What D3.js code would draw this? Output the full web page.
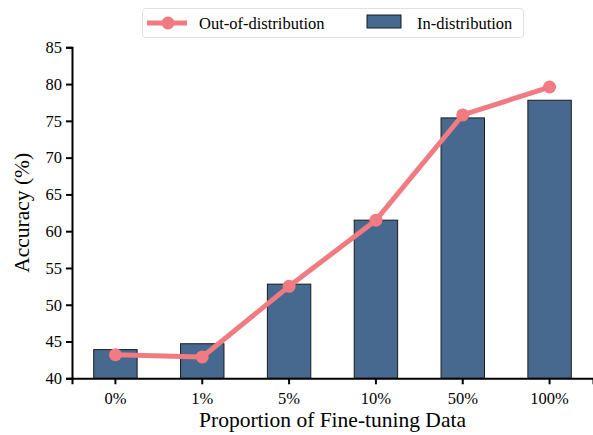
<!DOCTYPE html>
<html>
<head>
<meta charset="utf-8">
<script src="https://cdn.jsdelivr.net/npm/d3@7"></script>
<style>
  html, body { margin: 0; padding: 0; background: #fff; }
  svg { display: block; font-family: "Liberation Serif", "Times New Roman", serif; }
  svg text { font-family: "Liberation Serif", "Times New Roman", serif !important; }
  .tick text { font-size: 16.5px !important; fill: #000; }
</style>
</head>
<body>
<svg id="chart" width="593" height="435"></svg>
<script>
const categories = ["0%", "1%", "5%", "10%", "50%", "100%"];
const inDistribution = [43.9, 44.7, 52.8, 61.5, 75.4, 77.8];
const outOfDistribution = [43.2, 42.9, 52.5, 61.5, 75.8, 79.6];
const yTicks = [40, 45, 50, 55, 60, 65, 70, 75, 80, 85];

(function () {
const svg = d3.select("#chart");
const mLeft = 72, mRight = 593, mTop = 47.3, mBottom = 378.3;

const x = d3.scaleBand().domain(categories).range([mLeft, mRight]).paddingInner(0.5).paddingOuter(0.25);
const y = d3.scaleLinear().domain([40, 85]).range([mBottom, mTop]);

const barColor = "#476990";
const lineColor = "#f07b80";

// bars
svg.append("g").selectAll("rect").data(categories).join("rect")
  .attr("x", d => x(d))
  .attr("y", (d, i) => y(inDistribution[i]))
  .attr("width", x.bandwidth())
  .attr("height", (d, i) => y(40) - y(inDistribution[i]))
  .attr("fill", barColor)
  .attr("stroke", "#1a1a1a")
  .attr("stroke-width", 1);

// line
const cx = d => x(d) + x.bandwidth() / 2;
const line = d3.line().x((d, i) => cx(categories[i])).y(d => y(d));
svg.append("path").datum(outOfDistribution)
  .attr("d", line)
  .attr("fill", "none")
  .attr("stroke", lineColor)
  .attr("stroke-width", 5)
  .attr("stroke-linejoin", "round");
svg.append("g").selectAll("circle").data(outOfDistribution).join("circle")
  .attr("cx", (d, i) => cx(categories[i]))
  .attr("cy", d => y(d))
  .attr("r", 6.5)
  .attr("fill", lineColor);

// axes
const xAxis = svg.append("g").attr("transform", `translate(0,${mBottom})`)
  .call(d3.axisBottom(x).tickSizeOuter(0).tickSize(6).tickPadding(8));
const yAxis = svg.append("g").attr("transform", `translate(${mLeft},0)`)
  .call(d3.axisLeft(y).tickValues(yTicks).tickSizeOuter(0).tickSize(6).tickPadding(4));
[xAxis, yAxis].forEach(g => {
  g.attr("font-family", "Liberation Serif").attr("font-size", 16.5);
  g.select(".domain").attr("stroke", "#000").attr("stroke-width", 2);
  g.selectAll(".tick line").attr("stroke", "#000").attr("stroke-width", 2);
  g.selectAll(".tick text").attr("fill", "#000");
});

// axis titles
svg.append("text")
  .attr("x", (mLeft + mRight) / 2).attr("y", 427)
  .attr("text-anchor", "middle")
  .style("font-size", "21.5px")
  .text("Proportion of Fine-tuning Data");
svg.append("text")
  .attr("transform", `translate(29,${(mTop + mBottom) / 2}) rotate(-90)`)
  .attr("text-anchor", "middle")
  .style("font-size", "21.5px")
  .text("Accuracy (%)");

// legend
const lg = svg.append("g");
lg.append("rect").attr("x", 142.5).attr("y", 8.5).attr("width", 381).attr("height", 29)
  .attr("rx", 3).attr("fill", "#fff").attr("stroke", "#e0e0e0").attr("stroke-width", 1);
lg.append("line").attr("x1", 147).attr("x2", 187).attr("y1", 23).attr("y2", 23)
  .attr("stroke", lineColor).attr("stroke-width", 5);
lg.append("circle").attr("cx", 168).attr("cy", 23).attr("r", 6.5).attr("fill", lineColor);
lg.append("text").attr("x", 199).attr("y", 29).style("font-size", "16.5px").text("Out-of-distribution");
lg.append("rect").attr("x", 367).attr("y", 15).attr("width", 34).attr("height", 13)
  .attr("fill", barColor).attr("stroke", "#1a1a1a").attr("stroke-width", 1);
lg.append("text").attr("x", 417).attr("y", 29).style("font-size", "16.5px").text("In-distribution");
})();
</script>
</body>
</html>
